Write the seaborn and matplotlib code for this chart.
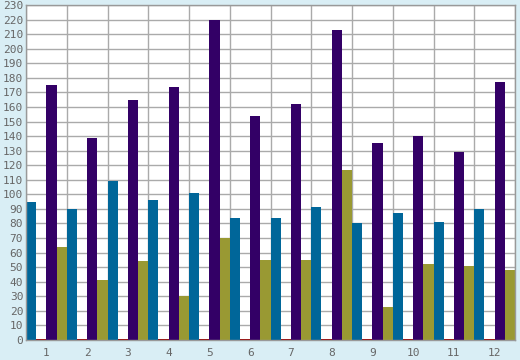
# Grouped monthly bars - four series, 12 categories

import pandas as pd
import matplotlib.pyplot as plt
import seaborn as sns
from matplotlib.ticker import MultipleLocator, FixedLocator

# data
months = ['1', '2', '3', '4', '5', '6', '7', '8', '9', '10', '11', '12']
series_names = ['A', 'B', 'C', 'D']
blue_vals = [95, 90, 109, 96, 101, 84, 84, 91, 80, 87, 81, 90]
red_vals = [1, 1, 1, 1, 1, 1, 1, 1, 1, 1, 1, 1]
purple_vals = [175, 139, 165, 174, 220, 154, 162, 213, 135, 140, 129, 177]
olive_vals = [64, 41, 54, 30, 70, 55, 55, 117, 23, 52, 51, 48]
colors = ['#006699', '#990000', '#330066', '#999933']

rows = []
for name, vals in zip(series_names, [blue_vals, red_vals, purple_vals, olive_vals]):
    for m, v in zip(months, vals):
        rows.append({'Month': m, 'Series': name, 'Value': v})
df = pd.DataFrame(rows)

sns.set_style('white')
plt.rcParams['font.family'] = ['DejaVu Sans Mono', 'DejaVu Sans']

fig = plt.figure(figsize=(5.2, 3.6), dpi=100)
fig.patch.set_facecolor('#D9EEF5')
ax = fig.add_axes([26 / 520, 20 / 360, 489 / 520, 335 / 360])
ax.set_facecolor('white')

sns.barplot(data=df, x='Month', y='Value', hue='Series', order=months,
            hue_order=series_names, palette=colors, width=1, gap=0,
            saturation=1, linewidth=0, legend=False, ax=ax)

ax.set_xlim(-0.5, 11.5)
ax.set_ylim(0, 230)
ax.yaxis.set_major_locator(MultipleLocator(10))
ax.xaxis.set_minor_locator(FixedLocator([i - 0.5 for i in range(13)]))

ax.grid(True, axis='y', color='#AAAAAA', linewidth=1)
ax.grid(True, axis='x', which='minor', color='#AAAAAA', linewidth=1)
ax.set_axisbelow(True)

ax.tick_params(axis='x', which='major', length=0, pad=6, labelsize=8, labelcolor='#666666')
ax.tick_params(axis='x', which='minor', length=6, width=1, color='#888888', direction='out')
ax.tick_params(axis='y', length=0, pad=2, labelsize=8, labelcolor='#666666')

for side in ['left', 'bottom', 'right', 'top']:
    ax.spines[side].set_color('#999999')
    ax.spines[side].set_linewidth(1)

ax.set_xlabel('')
ax.set_ylabel('')

plt.savefig('out.png', dpi=100, facecolor=fig.get_facecolor())
